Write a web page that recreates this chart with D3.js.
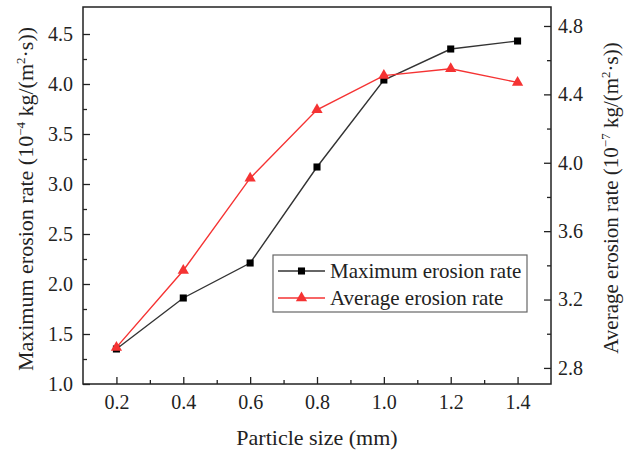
<!DOCTYPE html>
<html lang="en">
<head>
    <meta charset="UTF-8">
    <script src="https://d3js.org/d3.v7.min.js"></script>
    <style>
        body { margin: 0; background: white; }
        svg { display: block; }
        text { font-family: "Liberation Serif", "Times New Roman", serif; fill: #222; }
    </style>
</head>
<body>
    <div id="chart"></div>
    <script>
        // data
        const sizes = [0.2, 0.4, 0.6, 0.8, 1.0, 1.2, 1.4];
        const maxRate = [1.35, 1.86, 2.21, 3.17, 4.04, 4.35, 4.43];
        const avgRate = [2.92, 3.37, 3.91, 4.31, 4.51, 4.55, 4.47];

        const xTicks = [0.2, 0.4, 0.6, 0.8, 1.0, 1.2, 1.4];
        const xMinor = [0.3, 0.5, 0.7, 0.9, 1.1, 1.3];
        const leftTicks = [1.0, 1.5, 2.0, 2.5, 3.0, 3.5, 4.0, 4.5];
        const leftMinor = [1.25, 1.75, 2.25, 2.75, 3.25, 3.75, 4.25];
        const rightTicks = [2.8, 3.2, 3.6, 4.0, 4.4, 4.8];
        const rightMinor = [3.0, 3.4, 3.8, 4.2, 4.6];

        const width = 625, height = 456;
        const plot = { left: 83, right: 551, top: 7, bottom: 384 };

        const svg = d3.select("#chart").append("svg")
            .attr("width", width)
            .attr("height", height);

        const x = d3.scaleLinear().domain([0.1, 1.5]).range([plot.left, plot.right]);
        const yL = d3.scaleLinear().domain([1.0, 4.77]).range([plot.bottom, plot.top]);
        const yR = d3.scaleLinear().domain([2.706, 4.911]).range([plot.bottom, plot.top]);

        function styleAxis(g) {
            g.select(".domain").remove();
            g.selectAll("line").attr("stroke", "#222").attr("stroke-width", 1.3);
            g.selectAll("text").style("font-size", "20px").attr("fill", "#222");
        }

        // x axis, ticks point inward
        svg.append("g")
            .attr("transform", `translate(0,${plot.bottom})`)
            .call(d3.axisBottom(x).tickValues(xTicks).tickSize(-7).tickPadding(11).tickFormat(d3.format(".1f")))
            .call(styleAxis);
        svg.append("g")
            .attr("transform", `translate(0,${plot.bottom})`)
            .call(d3.axisBottom(x).tickValues(xMinor).tickSize(-4).tickFormat(""))
            .call(styleAxis);

        // left axis
        svg.append("g")
            .attr("transform", `translate(${plot.left},0)`)
            .call(d3.axisLeft(yL).tickValues(leftTicks).tickSize(-7).tickPadding(10).tickFormat(d3.format(".1f")))
            .call(styleAxis);
        svg.append("g")
            .attr("transform", `translate(${plot.left},0)`)
            .call(d3.axisLeft(yL).tickValues(leftMinor).tickSize(-4).tickFormat(""))
            .call(styleAxis);

        // right axis
        svg.append("g")
            .attr("transform", `translate(${plot.right},0)`)
            .call(d3.axisRight(yR).tickValues(rightTicks).tickSize(-7).tickPadding(7).tickFormat(d3.format(".1f")))
            .call(styleAxis);
        svg.append("g")
            .attr("transform", `translate(${plot.right},0)`)
            .call(d3.axisRight(yR).tickValues(rightMinor).tickSize(-4).tickFormat(""))
            .call(styleAxis);

        // frame
        svg.append("rect")
            .attr("x", plot.left)
            .attr("y", plot.top)
            .attr("width", plot.right - plot.left)
            .attr("height", plot.bottom - plot.top)
            .attr("fill", "none")
            .attr("stroke", "#222")
            .attr("stroke-width", 1.5);

        const series = [
            { name: "Maximum erosion rate", values: maxRate, y: yL, color: "#333", fill: "#000", symbol: d3.symbolSquare, size: 50 },
            { name: "Average erosion rate", values: avgRate, y: yR, color: "#f53333", fill: "#f53333", symbol: d3.symbolTriangle, size: 55 }
        ];

        series.forEach(s => {
            const pts = sizes.map((d, i) => [d, s.values[i]]);
            svg.append("path")
                .datum(pts)
                .attr("fill", "none")
                .attr("stroke", s.color)
                .attr("stroke-width", 1.4)
                .attr("d", d3.line().x(d => x(d[0])).y(d => s.y(d[1])));

            svg.selectAll(null)
                .data(pts)
                .enter().append("path")
                .attr("transform", d => `translate(${x(d[0])},${s.y(d[1])})`)
                .attr("d", d3.symbol().type(s.symbol).size(s.size))
                .attr("fill", s.fill);
        });

        // legend
        const legend = svg.append("g").attr("transform", "translate(273,255)");
        legend.append("rect")
            .attr("width", 254)
            .attr("height", 57)
            .attr("fill", "white")
            .attr("stroke", "#666")
            .attr("stroke-width", 1.2);

        series.forEach((s, i) => {
            const row = legend.append("g").attr("transform", `translate(0,${16 + i * 27})`);
            row.append("line")
                .attr("x1", 5).attr("x2", 52)
                .attr("stroke", s.color).attr("stroke-width", 1.4);
            row.append("path")
                .attr("transform", "translate(28.5,0)")
                .attr("d", d3.symbol().type(s.symbol).size(s.size))
                .attr("fill", s.fill);
            row.append("text")
                .attr("x", 57)
                .attr("dy", "0.33em")
                .style("font-size", "21px")
                .text(s.name);
        });

        // axis titles
        svg.append("text")
            .attr("x", (plot.left + plot.right) / 2)
            .attr("y", 445)
            .attr("text-anchor", "middle")
            .style("font-size", "22px")
            .text("Particle size (mm)");

        function axisTitle(tx, ty, label, exp, fs) {
            const t = svg.append("text")
                .attr("transform", `translate(${tx},${ty}) rotate(-90)`)
                .attr("text-anchor", "middle")
                .style("font-size", fs + "px");
            t.append("tspan").text(label + " (10");
            t.append("tspan").attr("dy", -8).style("font-size", "13px").text(exp);
            t.append("tspan").attr("dy", 8).text(" kg/(m");
            t.append("tspan").attr("dy", -8).style("font-size", "13px").text("2");
            t.append("tspan").attr("dy", 8).text("·s))");
        }

        axisTitle(33, 199, "Maximum erosion rate", "−4", 22);
        axisTitle(618, 198, "Average erosion rate", "−7", 21);
    </script>
</body>
</html>
